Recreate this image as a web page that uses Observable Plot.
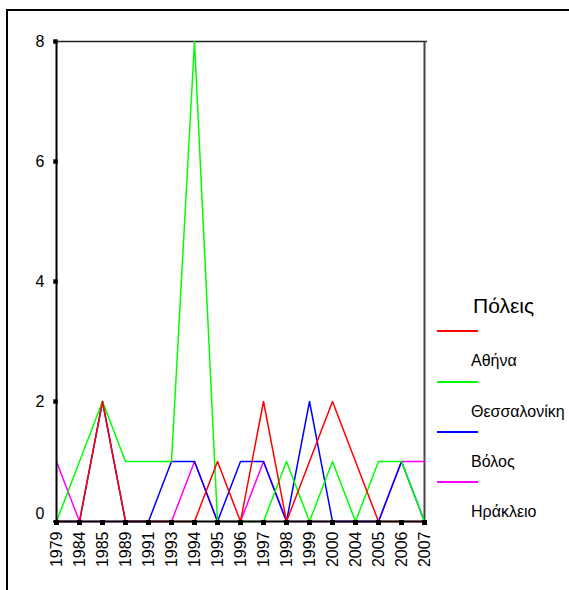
<!DOCTYPE html>
<html>
<head>
<meta charset="utf-8">
<script src="https://cdn.jsdelivr.net/npm/d3@7"></script>
<script src="https://cdn.jsdelivr.net/npm/@observablehq/plot@0.6"></script>
<style>
  html, body { margin: 0; padding: 0; background: #fff; overflow: hidden; }
  #wrap { position: relative; width: 569px; height: 590px; overflow: hidden; font-family: "Liberation Sans", Arial, sans-serif; }
  #outer { position: absolute; left: 6px; top: 9px; width: 700px; height: 700px; border-top: 2px solid #000; border-left: 2px solid #000; box-sizing: border-box; }
  #chart { position: absolute; left: 0; top: 0; }
  .leg { position: absolute; white-space: nowrap; color: #000; }
  .legline { position: absolute; height: 2px; width: 41px; left: 437px; }
</style>
</head>
<body>
<div id="wrap">
  <div id="outer"></div>
  <div id="chart"></div>
  <div id="legend"></div>
</div>
<script>
const years = ["1979","1984","1985","1989","1991","1993","1994","1995","1996","1997","1998","1999","2000","2004","2005","2006","2007"];
const athina   = [0,0,2,0,0,0,0,1,0,2,0,1,2,1,0,0,0];
const thessal  = [0,1,2,1,1,1,8,0,0,0,1,0,1,0,1,1,0];
const volos    = [0,0,2,0,0,1,1,0,1,1,0,2,0,0,0,1,0];
const irakleio = [1,0,0,0,0,0,1,0,0,1,0,0,0,0,0,1,1];
const seriesNames = ["Αθήνα", "Θεσσαλονίκη", "Βόλος", "Ηράκλειο"];
const seriesColors = ["#ff0000", "#00ff00", "#0000ff", "#ff00ff"];
const seriesValues = [athina, thessal, volos, irakleio];
const yTicks = [0, 2, 4, 6, 8];

const rows = [];
seriesNames.forEach((name, i) => {
  years.forEach((yr, j) => rows.push({city: name, year: yr, value: seriesValues[i][j]}));
});
// draw order: magenta bottom, then blue, green, red on top
const drawOrder = [3, 2, 1, 0];

const font = "Liberation Sans, Arial, sans-serif";
const chart = Plot.plot({
  width: 569,
  height: 590,
  marginLeft: 53,
  marginRight: 142,
  marginTop: 41,
  marginBottom: 69,
  style: {fontFamily: font, background: "transparent", overflow: "visible"},
  x: {type: "point", domain: years, padding: 0},
  y: {domain: [0, 8]},
  marks: [
    Plot.ruleY([8], {stroke: "#222", strokeWidth: 1.5}),
    Plot.ruleX([years[years.length - 1]], {stroke: "#444", strokeWidth: 2}),
    ...drawOrder.map(i => Plot.line(rows.filter(r => r.city === seriesNames[i]), {
      x: "year", y: "value", stroke: seriesColors[i], strokeWidth: 1.5
    })),
    Plot.ruleX([years[0]], {stroke: "#000", strokeWidth: 2}),
    Plot.ruleY([0], {stroke: "#000", strokeWidth: 2}),
    Plot.dot(years, {x: d => d, y: () => 0, symbol: "square", r: 2.8, fill: "#000", dy: 1}),
    Plot.dot(yTicks.filter(t => t > 0), {x: () => years[0], y: d => d, symbol: "square", r: 2.5, fill: "#000", dx: -1}),
    Plot.axisY(yTicks.filter(t => t > 0), {tickSize: 0, tickPadding: 9, fontSize: 16, fill: "#000", label: null, tickFormat: d => String(d)}),
    Plot.axisY([0], {tickSize: 0, tickPadding: 9, fontSize: 16, fill: "#000", dy: -8, label: null, tickFormat: d => String(d)}),
    Plot.axisX({tickSize: 0, tickPadding: 10, tickRotate: -90, fontSize: 16, fill: "#000", label: null})
  ]
});
document.getElementById("chart").appendChild(chart);

// legend
const leg = document.getElementById("legend");
const title = document.createElement("div");
title.className = "leg";
title.textContent = "Πόλεις";
title.style.cssText = "left:473px; top:294px; font-size:21px;";
leg.appendChild(title);
const lineTops = [330, 381, 431, 481];
const labelTops = [352, 403, 453, 503];
seriesNames.forEach((name, i) => {
  const ln = document.createElement("div");
  ln.className = "legline";
  ln.style.top = lineTops[i] + "px";
  ln.style.background = seriesColors[i];
  leg.appendChild(ln);
  const lb = document.createElement("div");
  lb.className = "leg";
  lb.textContent = name;
  lb.style.cssText = `left:471px; top:${labelTops[i]}px; font-size:16px;`;
  leg.appendChild(lb);
});
</script>
</body>
</html>
